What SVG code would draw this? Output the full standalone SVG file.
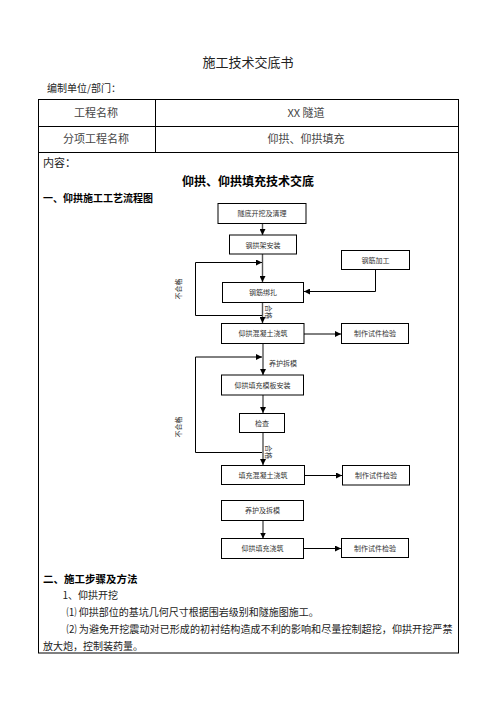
<svg xmlns="http://www.w3.org/2000/svg" width="496" height="702" viewBox="0 0 496 702">
<style>
.t{font-family:"Noto Sans CJK SC","Liberation Sans",sans-serif;fill:#222}
.b{font-weight:bold;fill:#000}
.box{fill:#fff;stroke:#000;stroke-width:1}
.fl{font-family:"Noto Sans CJK SC","Liberation Sans",sans-serif;font-size:7px;fill:#333;text-anchor:middle}
.ln{fill:none;stroke:#000;stroke-width:1}
.main{fill:none;stroke:#555;stroke-width:1.4}
.cell{font-size:11px;fill:#444;text-anchor:middle}
</style>
<defs>
<marker id="ah" viewBox="0 0 6 6" refX="6" refY="3" markerWidth="6" markerHeight="6" markerUnits="userSpaceOnUse" orient="auto">
<path d="M0,0 L6,3 L0,6 z" fill="#000"/>
</marker>
</defs>
<rect width="496" height="702" fill="#fff"/>
<g id="header">
<text class="t" x="248" y="67" font-size="13" text-anchor="middle">施工技术交底书</text>
<text class="t" x="47" y="92" font-size="10">编制单位/部门：</text>
</g>
<g id="table">
<rect x="38.5" y="99.5" width="420" height="553.5" fill="none" stroke="#000" stroke-width="1"/>
<line x1="38.5" y1="126.5" x2="458.5" y2="126.5" stroke="#000"/>
<line x1="38.5" y1="152.5" x2="458.5" y2="152.5" stroke="#000"/>
<line x1="155.5" y1="99.5" x2="155.5" y2="152.5" stroke="#000"/>
<text class="t cell" x="96" y="117">工程名称</text>
<text class="t cell" x="306" y="117">XX 隧道</text>
<text class="t cell" x="96" y="143">分项工程名称</text>
<text class="t cell" x="306" y="143">仰拱、仰拱填充</text>
<text class="t" x="43" y="167" font-size="11" fill="#333">内容：</text>
<text class="t b" x="248" y="186" font-size="12" text-anchor="middle">仰拱、仰拱填充技术交底</text>
<text class="t b" x="43" y="202" font-size="10">一、仰拱施工工艺流程图</text>
</g>
<g id="connectors">
<line class="main" x1="262.5" y1="223" x2="262.5" y2="235" marker-end="url(#ah)"/>
<line class="main" x1="262.5" y1="254" x2="262.5" y2="282" marker-end="url(#ah)"/>
<line class="main" x1="262.5" y1="302" x2="262.5" y2="323" marker-end="url(#ah)"/>
<line class="main" x1="263" y1="343" x2="263" y2="375" marker-end="url(#ah)"/>
<line class="main" x1="263" y1="395" x2="263" y2="413" marker-end="url(#ah)"/>
<line class="main" x1="263" y1="432" x2="263" y2="465" marker-end="url(#ah)"/>
<line class="main" x1="263" y1="520" x2="263" y2="538.5" marker-end="url(#ah)"/>
<polyline class="ln" points="262,315.5 195.5,315.5 195.5,262.5 262,262.5" marker-end="url(#ah)"/>
<polyline class="ln" points="262,452.5 195.5,452.5 195.5,357 262,357" marker-end="url(#ah)"/>
<polyline class="ln" points="375.5,269 375.5,291.5 304,291.5" marker-end="url(#ah)"/>
<line class="ln" x1="304" y1="334" x2="341" y2="334" marker-end="url(#ah)"/>
<line class="ln" x1="304" y1="475.5" x2="342" y2="475.5" marker-end="url(#ah)"/>
<line class="ln" x1="304" y1="548.5" x2="341" y2="548.5" marker-end="url(#ah)"/>
<text class="fl" transform="translate(181,289) rotate(-90)">不合格</text>
<text class="fl" transform="translate(181,427) rotate(-90)">不合格</text>
<text class="fl" transform="translate(266,312) rotate(90)" font-size="6">合格</text>
<text class="fl" transform="translate(266,452) rotate(90)" font-size="6">合格</text>
<text class="fl" x="283" y="366" font-size="6.5">养护拆模</text>
</g>
<g id="n1"><rect class="box" x="218" y="203.5" width="88" height="20"/><text class="fl" x="262" y="216">隧底开挖及清理</text></g>
<g id="n2"><rect class="box" x="229.5" y="235" width="67" height="19"/><text class="fl" x="263" y="247.5">钢拱架安装</text></g>
<g id="n3"><rect class="box" x="341.5" y="250.5" width="68" height="19"/><text class="fl" x="375.5" y="263">钢筋加工</text></g>
<g id="n4"><rect class="box" x="222.5" y="282.5" width="81" height="20"/><text class="fl" x="263" y="295">钢筋绑扎</text></g>
<g id="n5"><rect class="box" x="221.5" y="323.5" width="82.5" height="20"/><text class="fl" x="263" y="336">仰拱混凝土浇筑</text></g>
<g id="n6"><rect class="box" x="341.5" y="323.5" width="67" height="20"/><text class="fl" x="375" y="336">制作试件检验</text></g>
<g id="n7"><rect class="box" x="221.5" y="375" width="82" height="20"/><text class="fl" x="262.5" y="387.5">仰拱填充模板安装</text></g>
<g id="n8"><rect class="box" x="239.5" y="413.5" width="45" height="19"/><text class="fl" x="262" y="425.5">检查</text></g>
<g id="n9"><rect class="box" x="221.5" y="465.5" width="83" height="19"/><text class="fl" x="263" y="478">填充混凝土浇筑</text></g>
<g id="n10"><rect class="box" x="342.5" y="465.5" width="67" height="19.5"/><text class="fl" x="376" y="478">制作试件检验</text></g>
<g id="n11"><rect class="box" x="221.5" y="500.5" width="82" height="20"/><text class="fl" x="262.5" y="513">养护及拆模</text></g>
<g id="n12"><rect class="box" x="221.5" y="538.5" width="82" height="20"/><text class="fl" x="262.5" y="551">仰拱填充浇筑</text></g>
<g id="n13"><rect class="box" x="341.5" y="538.5" width="67" height="19"/><text class="fl" x="375" y="551">制作试件检验</text></g>
<g id="body">
<text class="t b" x="43" y="583" font-size="10.5">二、施工步骤及方法</text>
<text class="t" x="62.5" y="599" font-size="10" fill="#444">1、仰拱开挖</text>
<text class="t" x="66.5" y="615.5" font-size="10" fill="#444">⑴ 仰拱部位的基坑几何尺寸根据围岩级别和隧施图施工。</text>
<text class="t" x="66.5" y="633" font-size="10" fill="#444" textLength="386" lengthAdjust="spacingAndGlyphs">⑵ 为避免开挖震动对已形成的初衬结构造成不利的影响和尽量控制超挖，仰拱开挖严禁</text>
<text class="t" x="43" y="650" font-size="10" fill="#444">放大炮，控制装药量。</text>
</g>
</svg>
